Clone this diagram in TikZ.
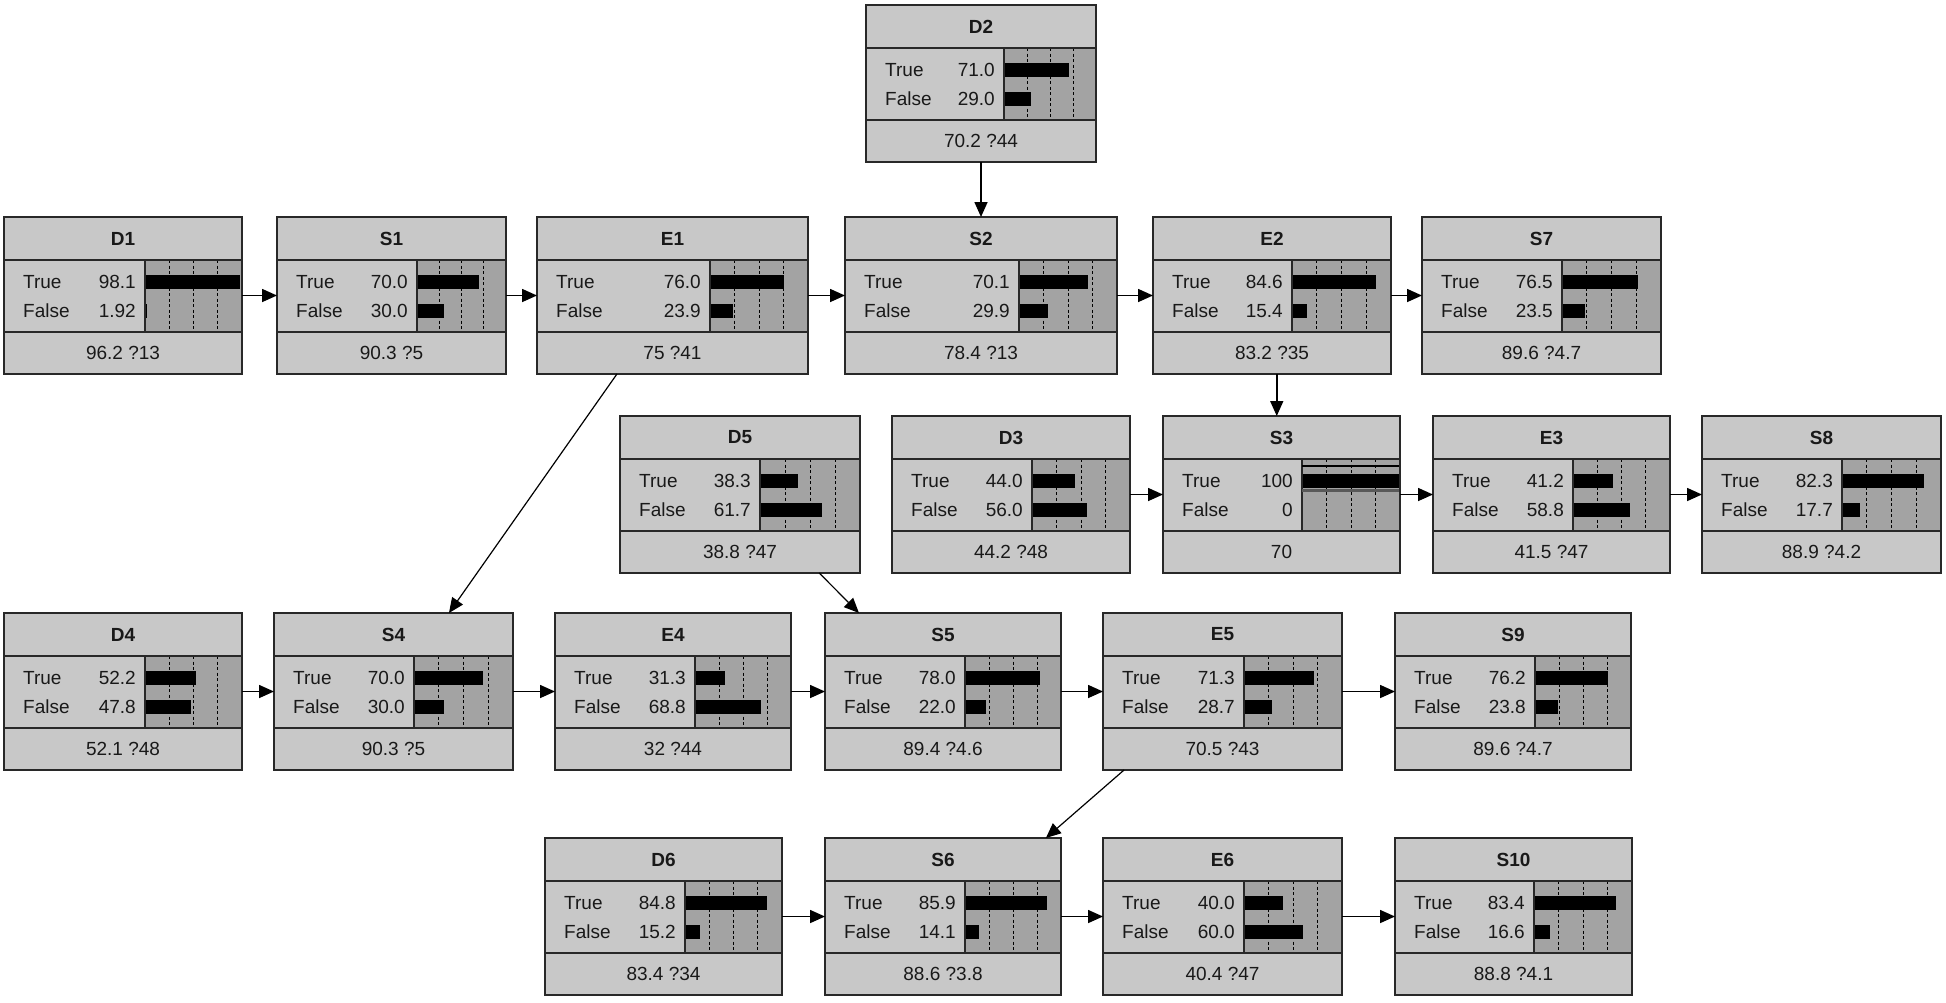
\documentclass[tikz,border=0pt]{standalone}
\usepackage{fontspec}
\setmainfont{Liberation Sans}
\usetikzlibrary{arrows.meta,calc}
\definecolor{hdrgray}{RGB}{200,200,200}
\definecolor{bargray}{RGB}{163,163,163}
\definecolor{edgec}{RGB}{40,40,40}
\definecolor{txtc}{RGB}{25,25,25}
\tikzset{
 boxline/.style={draw=edgec, line width=2pt},
 tickline/.style={draw=black, line width=1pt, dash pattern=on 3pt off 2.5pt},
 lbl/.style={inner sep=0pt, text=txtc, font=\fontsize{19}{22}\selectfont},
 ttl/.style={lbl, font=\fontsize{19}{22}\selectfont\bfseries},
 frame/.style={draw=edgec, line width=2pt, inner sep=0pt, outer sep=0pt, anchor=north west, minimum height=157pt},
 arr/.style={draw=black, line width=1.6pt, -{Triangle[length=15pt,width=13pt]}},
 diag/.style={draw=black, line width=1.2pt, -{Triangle[length=15pt,width=13pt]}},
}
% #1 name, #2 x, #3 y, #4 width, #5 text-area width, #6 title, #7 true, #8 false, #9 footer
\newcommand{\bnode}[9]{%
 \pgfmathsetmacro\bw{#4-#5}%
 \begin{scope}[shift={(#2,#3)}]
  \fill[hdrgray] (0,0) rectangle (#4,157);
  \fill[bargray] (#5,43) rectangle (#4,115);
  \foreach \f in {0.25,0.5,0.75}{\draw[tickline] ({#5+\f*\bw},43) -- ({#5+\f*\bw},115);}
  \fill[black] (#5,58) rectangle ({#5+#7/100*\bw},72);
  \fill[black] (#5,87) rectangle ({#5+#8/100*\bw},101);
  \draw[boxline] (0,43) -- (#4,43) (0,115) -- (#4,115) (#5,43) -- (#5,115);
  \node[ttl] (#1-h) at ({#4/2},21.5) {#6};
  \node[lbl,anchor=west] (#1-tl) at (19,65) {True};
  \node[lbl,anchor=east] (#1-tv) at ({#5-9},65) {#7};
  \node[lbl,anchor=west] (#1-fl) at (19,94) {False};
  \node[lbl,anchor=east] (#1-fv) at ({#5-9},94) {#8};
  \node[lbl] (#1-f) at ({#4/2},136) {#9};
 \end{scope}
 \node[frame, minimum width=#4pt] (#1) at (#2,#3) {};
}
\begin{document}
\begin{tikzpicture}[x=1pt,y=-1pt]
\useasboundingbox[fill=white] (0,0) rectangle (1946,1002);
% row 0
\bnode{D2}{866}{5}{230}{138}{D2}{71.0}{29.0}{70.2 ?44}
% row 1
\bnode{D1}{4}{217}{238}{141}{D1}{98.1}{1.92}{96.2 ?13}
\bnode{S1}{277}{217}{229}{140}{S1}{70.0}{30.0}{90.3 ?5}
\bnode{E1}{537}{217}{271}{173}{E1}{76.0}{23.9}{75 ?41}
\bnode{S2}{845}{217}{272}{174}{S2}{70.1}{29.9}{78.4 ?13}
\bnode{E2}{1153}{217}{238}{139}{E2}{84.6}{15.4}{83.2 ?35}
\bnode{S7}{1422}{217}{239}{140}{S7}{76.5}{23.5}{89.6 ?4.7}
% row 2
\bnode{D5}{620}{416}{240}{140}{D5}{38.3}{61.7}{38.8 ?47}
\bnode{D3}{892}{416}{238}{140}{D3}{44.0}{56.0}{44.2 ?48}
\bnode{S3}{1163}{416}{237}{139}{S3}{100}{0}{70}
\begin{scope}[shift={(1163,416)}]
 \draw[black, line width=1.5pt] (139,50) -- (237,50);
 \fill[black!65] (139,73) rectangle (237,76);
\end{scope}
\node[frame, minimum width=237pt] (S3b) at (1163,416) {};
\bnode{E3}{1433}{416}{237}{140}{E3}{41.2}{58.8}{41.5 ?47}
\bnode{S8}{1702}{416}{239}{140}{S8}{82.3}{17.7}{88.9 ?4.2}
% row 3
\bnode{D4}{4}{613}{238}{141}{D4}{52.2}{47.8}{52.1 ?48}
\bnode{S4}{274}{613}{239}{140}{S4}{70.0}{30.0}{90.3 ?5}
\bnode{E4}{555}{613}{236}{140}{E4}{31.3}{68.8}{32 ?44}
\bnode{S5}{825}{613}{236}{140}{S5}{78.0}{22.0}{89.4 ?4.6}
\bnode{E5}{1103}{613}{239}{141}{E5}{71.3}{28.7}{70.5 ?43}
\bnode{S9}{1395}{613}{236}{140}{S9}{76.2}{23.8}{89.6 ?4.7}
% row 4
\bnode{D6}{545}{838}{237}{140}{D6}{84.8}{15.2}{83.4 ?34}
\bnode{S6}{825}{838}{236}{140}{S6}{85.9}{14.1}{88.6 ?3.8}
\bnode{E6}{1103}{838}{239}{141}{E6}{40.0}{60.0}{40.4 ?47}
\bnode{S10}{1395}{838}{237}{139}{S10}{83.4}{16.6}{88.8 ?4.1}
% connectors
\draw[arr] (D1.east) -- (S1.west);
\draw[arr] (S1.east) -- (E1.west);
\draw[arr] (E1.east) -- (S2.west);
\draw[arr] (S2.east) -- (E2.west);
\draw[arr] (E2.east) -- (S7.west);
\draw[arr] (D2.south) -- (S2.north);
\draw[arr] ($(E2.south)!.5!(E2.south -| S3.north)$) -- ($(S3.north)!.5!(S3.north -| E2.south)$);
\draw[arr] (D3.east) -- (S3.west);
\draw[arr] (S3.east) -- (E3.west);
\draw[arr] (E3.east) -- (S8.west);
\draw[arr] (D4.east) -- (S4.west);
\draw[arr] (S4.east) -- (E4.west);
\draw[arr] (E4.east) -- (S5.west);
\draw[arr] (S5.east) -- (E5.west);
\draw[arr] (E5.east) -- (S9.west);
\draw[arr] (D6.east) -- (S6.west);
\draw[arr] (S6.east) -- (E6.west);
\draw[arr] (E6.east) -- (S10.west);
\draw[diag] ($(E1.south west)!0.295!(E1.south east)$) -- ($(S4.north west)!0.732!(S4.north east)$);
\draw[diag] ($(D5.south west)!0.83!(D5.south east)$) -- ($(S5.north west)!0.144!(S5.north east)$);
\draw[diag] ($(E5.south west)!0.088!(E5.south east)$) -- ($(S6.north west)!0.936!(S6.north east)$);
\end{tikzpicture}
\end{document}
